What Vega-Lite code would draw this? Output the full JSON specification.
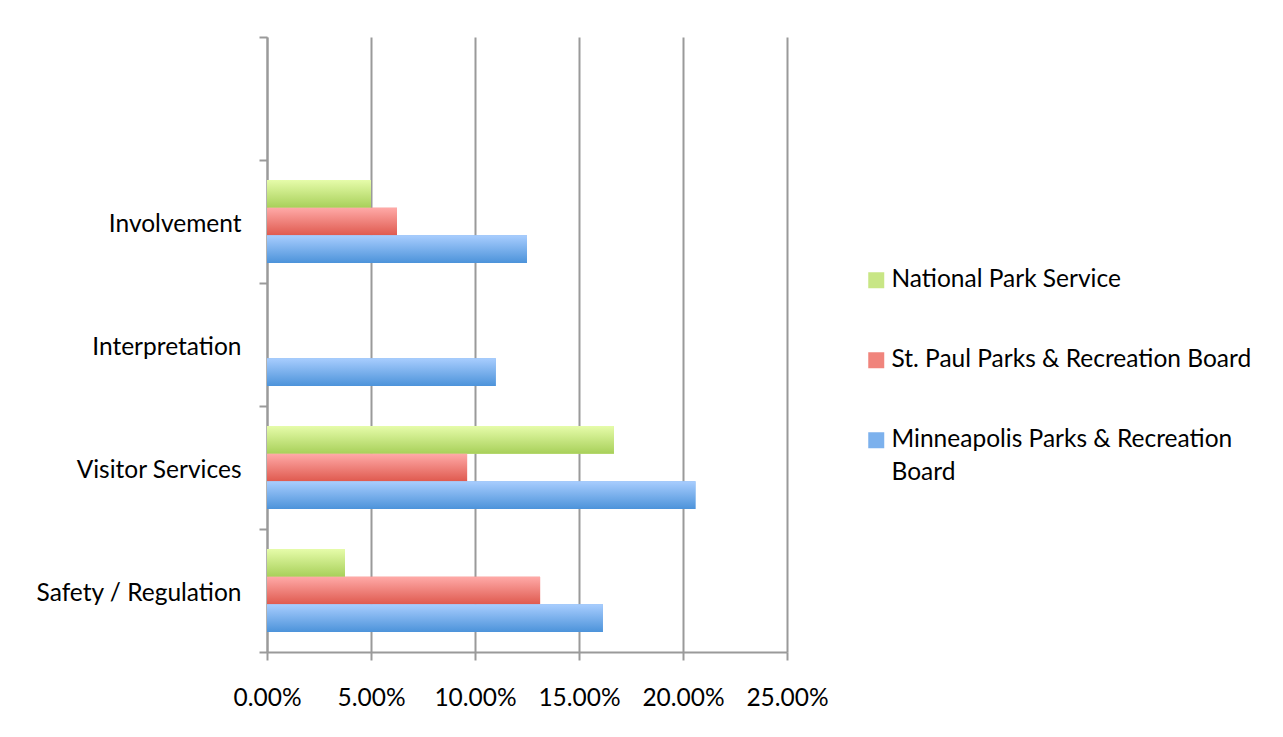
{
  "$schema": "https://vega.github.io/schema/vega-lite/v6.json",
  "autosize": "none",
  "width": 520,
  "height": 615,
  "padding": {"left": 267, "top": 37, "right": 496, "bottom": 85},
  "background": "white",
  "config": {
    "view": {"stroke": null},
    "font": "Lato",
    "axis": {"labelFont": "Lato", "labelFontSize": 24.5, "labelColor": "#000000", "labelLimit": 0, "labelOverlap": false, "labelFlush": false, "domainColor": "#9a9a9a", "domainWidth": 2, "tickColor": "#9a9a9a", "tickWidth": 2, "tickSize": 8, "gridColor": "#9a9a9a", "gridWidth": 2, "title": null}
  },
  "data": {
    "values": [
      {"category": "Involvement", "org": "National Park Service", "value": 0.05},
      {"category": "Involvement", "org": "St. Paul Parks & Recreation Board", "value": 0.0625},
      {"category": "Involvement", "org": "Minneapolis Parks & Recreation Board", "value": 0.125},
      {"category": "Interpretation", "org": "National Park Service", "value": 0},
      {"category": "Interpretation", "org": "St. Paul Parks & Recreation Board", "value": 0},
      {"category": "Interpretation", "org": "Minneapolis Parks & Recreation Board", "value": 0.11},
      {"category": "Visitor Services", "org": "National Park Service", "value": 0.1668},
      {"category": "Visitor Services", "org": "St. Paul Parks & Recreation Board", "value": 0.0962},
      {"category": "Visitor Services", "org": "Minneapolis Parks & Recreation Board", "value": 0.206},
      {"category": "Safety / Regulation", "org": "National Park Service", "value": 0.0375},
      {"category": "Safety / Regulation", "org": "St. Paul Parks & Recreation Board", "value": 0.1313},
      {"category": "Safety / Regulation", "org": "Minneapolis Parks & Recreation Board", "value": 0.1615}
    ]
  },
  "encoding": {
    "y": {
      "field": "category",
      "type": "nominal",
      "sort": null,
      "scale": {"domain": ["blank", "Involvement", "Interpretation", "Visitor Services", "Safety / Regulation"], "paddingInner": 0, "paddingOuter": 0},
      "axis": {"tickBand": "extent", "grid": false, "labelPadding": 18, "labelOffset": 3, "labelExpr": "datum.value == 'blank' ? '' : datum.value"}
    },
    "yOffset": {
      "field": "org",
      "type": "nominal",
      "scale": {"domain": ["National Park Service", "St. Paul Parks & Recreation Board", "Minneapolis Parks & Recreation Board"], "paddingInner": 0, "paddingOuter": 0.72}
    },
    "x": {
      "field": "value",
      "type": "quantitative",
      "scale": {"domain": [0, 0.25], "nice": false},
      "axis": {"format": ".2%", "values": [0, 0.05, 0.1, 0.15, 0.2, 0.25], "grid": true, "labelPadding": 26}
    }
  },
  "layer": [
    {
      "mark": {"type": "bar"},
      "encoding": {
        "color": {
          "field": "org",
          "type": "nominal",
          "scale": {
            "domain": ["National Park Service", "St. Paul Parks & Recreation Board", "Minneapolis Parks & Recreation Board"],
            "range": ["#c8e685", "#f0847c", "#7cb1ed"]
          },
          "legend": {
            "title": null,
            "orient": "none",
            "legendX": 597,
            "legendY": 231,
            "padding": 0,
            "symbolType": "square",
            "symbolSize": 256,
            "symbolStrokeWidth": 0,
            "labelFont": "Lato",
            "labelFontSize": 24.5,
            "labelColor": "#000000",
            "labelOffset": 3,
            "labelLimit": 0,
            "rowPadding": 55,
            "labelExpr": "datum.label == 'Minneapolis Parks & Recreation Board' ? ['Minneapolis Parks & Recreation', 'Board'] : datum.label",
            "encode": {"labels": {"update": {"lineHeight": {"value": 33}}}}
          }
        }
      }
    },
    {
      "mark": {"type": "bar"},
      "encoding": {
        "fill": {
          "condition": [
            {"test": "datum.org == 'National Park Service'", "value": {"gradient": "linear", "x1": 0, "y1": 0, "x2": 0, "y2": 1, "stops": [{"offset": 0, "color": "#e6fcaa"}, {"offset": 1, "color": "#a8d05a"}]}},
            {"test": "datum.org == 'St. Paul Parks & Recreation Board'", "value": {"gradient": "linear", "x1": 0, "y1": 0, "x2": 0, "y2": 1, "stops": [{"offset": 0, "color": "#ffaaa8"}, {"offset": 1, "color": "#df5a4f"}]}}
          ],
          "value": {"gradient": "linear", "x1": 0, "y1": 0, "x2": 0, "y2": 1, "stops": [{"offset": 0, "color": "#a8cdfe"}, {"offset": 1, "color": "#4c93da"}]}
        }
      }
    }
  ]
}
